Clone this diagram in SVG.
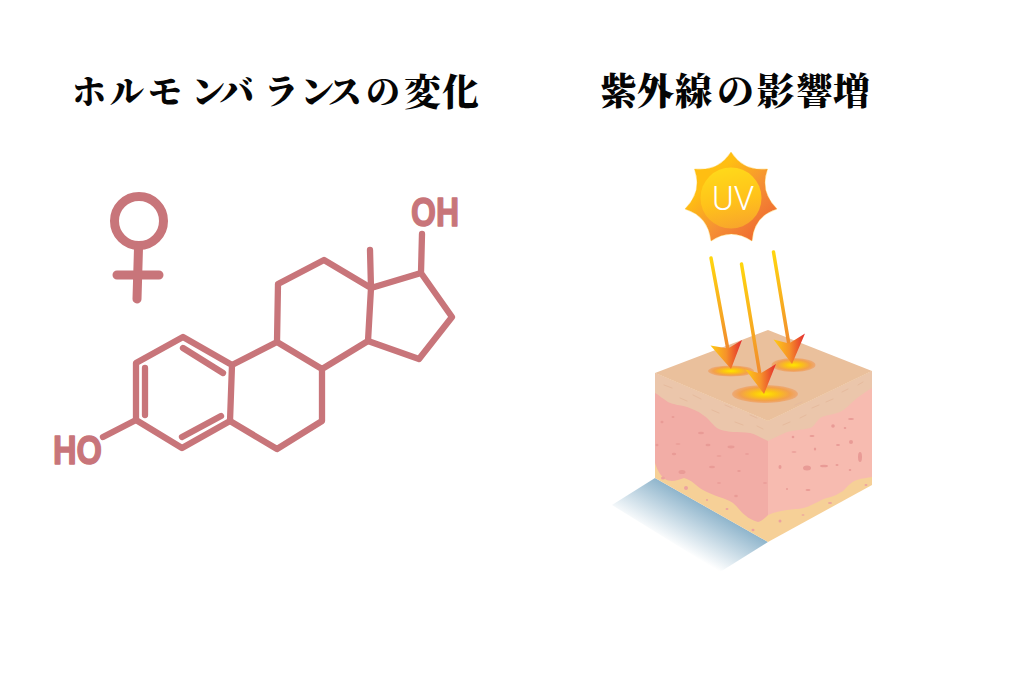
<svg xmlns="http://www.w3.org/2000/svg" width="1024" height="683" viewBox="0 0 1024 683">
<style>
.title{font-family:"Noto Serif CJK JP","Noto Sans CJK JP",serif;font-weight:900;fill:#050505}
.mol{fill:none;stroke:#C8757A;stroke-width:6.300;stroke-linecap:round;stroke-linejoin:round}
.lbl{font-family:"Liberation Sans",sans-serif;font-weight:700;font-size:41px;fill:#C8757A;stroke:#C8757A;stroke-width:1.500;stroke-linejoin:round}
.d{fill:#E99B96}
.f{fill:#EDA39F}
.ep{fill:none;stroke:#E6BB9E;stroke-width:1;stroke-linecap:round}
</style>
<defs>
<linearGradient id="sunO" x1="0" y1="0" x2="1" y2="1"><stop offset="0.3" stop-color="#FFBE12"/><stop offset="0.6" stop-color="#F58F35"/><stop offset="1" stop-color="#EC5A2E"/></linearGradient>
<linearGradient id="sunI" x1="0.4" y1="0" x2="0.6" y2="1"><stop offset="0" stop-color="#FFD91A"/><stop offset="0.55" stop-color="#FFC21A"/><stop offset="1" stop-color="#F8A52C"/></linearGradient>
<linearGradient id="shadow" gradientUnits="userSpaceOnUse" x1="712" y1="510" x2="687.500" y2="553.300"><stop offset="0" stop-color="#8FB5CC"/><stop offset="1" stop-color="#FFFFFF"/></linearGradient>
<radialGradient id="spot"><stop offset="0" stop-color="#FFE600"/><stop offset="0.35" stop-color="#FBC414"/><stop offset="0.75" stop-color="#F3A04A"/><stop offset="1" stop-color="#EDAA78"/></radialGradient>
<linearGradient id="s1" gradientUnits="userSpaceOnUse" x1="711" y1="258" x2="728" y2="350"><stop offset="0" stop-color="#FFD60F"/><stop offset="1" stop-color="#F18A2E"/></linearGradient>
<linearGradient id="s2" gradientUnits="userSpaceOnUse" x1="741.500" y1="264" x2="761" y2="375"><stop offset="0" stop-color="#FFD60F"/><stop offset="1" stop-color="#F18A2E"/></linearGradient>
<linearGradient id="s3" gradientUnits="userSpaceOnUse" x1="773.500" y1="252" x2="791" y2="346"><stop offset="0" stop-color="#FFD60F"/><stop offset="1" stop-color="#F18A2E"/></linearGradient>
<linearGradient id="head" x1="0" y1="0" x2="1" y2="0"><stop offset="0" stop-color="#FFCB14"/><stop offset="0.5" stop-color="#F6922A"/><stop offset="1" stop-color="#E32B2E"/></linearGradient>
</defs>

<g id="title-left" class="title">
<text font-size="34" y="104" x="72 110 148 191 220 264 300 328 366">ホルモンバランスの</text>
<text font-size="37" y="106" x="404 442">変化</text>
</g>
<g id="title-right" class="title">
<text font-size="37" y="105" x="600 637 675 717 757 796 833">紫外線の影響増</text>
</g>

<g id="female-symbol">
<circle cx="139" cy="221" r="24.500" fill="none" stroke="#C8757A" stroke-width="9"/>
<path d="M138.500 248L137 299M117 275H159" fill="none" stroke="#C8757A" stroke-width="9" stroke-linecap="round"/>
</g>

<g id="molecule">
<path class="mol" d="M136 363L183 337L232 365L230 421L182 448L136 420Z"/>
<path class="mol" d="M145 368V415M183 348L223 373M182 437L221 416"/>
<path class="mol" d="M136 420L103 437"/>
<path class="mol" d="M232 365L277 342L278 284L324 260L371 288L368 341L322 369L277 342M322 369V421L277 449L230 421"/>
<path class="mol" d="M371 288L370 250M371 288L421 273L452 317L419 359L368 341M421 273L422 234"/>
<text class="lbl" x="53" y="464" textLength="49" lengthAdjust="spacingAndGlyphs">HO</text>
<text class="lbl" x="411" y="226" textLength="48" lengthAdjust="spacingAndGlyphs">OH</text>
</g>

<g id="sun">
<path fill="url(#sunO)" stroke="#FFBE12" stroke-width="0.300" stroke-linejoin="round" d="M731 152Q743.600 171.900 767.500 169Q759.300 191.500 777 209Q753.700 216.100 752 241Q731 227 711 241Q708.300 216.100 685 209Q702.700 191.500 694.500 169Q718.400 171.900 731 152Z"/>
<circle cx="731" cy="198" r="30.500" fill="url(#sunI)"/>
<text x="733" y="210" text-anchor="middle" font-family="Roboto,'Liberation Sans',sans-serif" font-weight="300" font-size="33" fill="#FFFFFF">UV</text>
</g>

<g id="skin-block">
<polygon points="655,478 768,542 720,572 612,505" fill="url(#shadow)"/>
<polygon points="655,373 768,421 768,542 655,478" fill="#F6D097"/>
<polygon points="768,421 872,371 872,485 768,542" fill="#F6D097"/>
<path fill="#F2ADA6" d="M655 390V463C658 472 661 476 665 479C671 483 678 480 684 478C692 480 696 486 703 490C713 496 726 498 733 503C740 509 744 518 758 522C762 521 765 518 768 515V435Z"/>
<path fill="#F7BBB0" d="M768 515C775 512 781 511 787 510C795 509 801 509 807 507C815 504 820 500 827 498C835 496 838 494 843 491C848 486 851 482 857 480C862 478 868 478 872 477V380L768 435Z"/>
<path fill="#EBC6AB" d="M655 373L768 421L872 371V388C866 391 862 395 857 398C850 404 846 409 840 412C832 415 825 415 820 418C815 423 814 427 810 428C802 430 795 430 787 432C780 435 774 438 768 441C761 438 756 434 750 433C744 432 738 432 733 432C726 431 722 431 717 428C711 423 708 418 703 415C698 411 692 409 687 407C680 405 674 405 668 402C663 399 659 395 655 393Z"/>
<polygon points="768,330 872,371 768,421 655,373" fill="#EAC09C"/>
<path class="ep" d="M664 385l8 3M680 398l7 3M693 395l8 4M712 410l7 3M725 405l7 3M735 422l8 3M750 415l7 3M757 426l6 3M783 425l7-3M800 418l6-3M812 408l7-3M826 402l7-3M795 405l7-3M842 392l6-3M858 385l5-3"/>
<g id="dermis-spots">
<ellipse class="d" cx="662" cy="422" rx="1.500" ry="1.200"/><ellipse class="d" cx="673" cy="417" rx="1.500" ry="1"/><ellipse class="d" cx="701" cy="433" rx="3" ry="1.200"/><ellipse class="d" cx="657" cy="445" rx="1.500" ry="1.200"/><ellipse class="d" cx="678" cy="444" rx="2.500" ry="0.800"/><ellipse class="d" cx="708" cy="445" rx="2.500" ry="1.300"/><ellipse class="d" cx="731" cy="447" rx="3.500" ry="1.400"/><ellipse class="d" cx="719" cy="456" rx="2.500" ry="0.800"/><ellipse class="d" cx="747" cy="454" rx="2" ry="0.800"/><ellipse class="d" cx="674" cy="454" rx="2.200" ry="1.200"/><ellipse class="d" cx="712" cy="467" rx="3" ry="1.200"/><ellipse class="d" cx="682" cy="472" rx="3.500" ry="2"/><ellipse class="d" cx="739" cy="471" rx="1.800" ry="1"/><ellipse class="d" cx="719" cy="483" rx="2" ry="0.800"/><ellipse class="d" cx="765" cy="483" rx="2" ry="0.800"/><ellipse class="d" cx="736" cy="496" rx="1.800" ry="1.200"/>
<ellipse class="d" cx="793" cy="437" rx="1.300" ry="1.300"/><ellipse class="d" cx="812" cy="436" rx="2.500" ry="1"/><ellipse class="d" cx="833" cy="426" rx="1.800" ry="1.800"/><ellipse class="d" cx="851" cy="419" rx="3" ry="0.900"/><ellipse class="d" cx="845" cy="428" rx="1.300" ry="1"/><ellipse class="d" cx="851" cy="442" rx="2" ry="2"/><ellipse class="d" cx="860" cy="457" rx="2" ry="5"/><ellipse class="d" cx="838" cy="445" rx="2" ry="1"/><ellipse class="d" cx="815" cy="449" rx="1.200" ry="1.500"/><ellipse class="d" cx="794" cy="452" rx="2.500" ry="0.800"/><ellipse class="d" cx="807" cy="468" rx="4" ry="2.500"/><ellipse class="d" cx="824" cy="466" rx="4" ry="1.300"/><ellipse class="d" cx="837" cy="465" rx="1.500" ry="1"/><ellipse class="d" cx="780" cy="467" rx="1.500" ry="2"/><ellipse class="d" cx="850" cy="470" rx="1.300" ry="1"/><ellipse class="d" cx="808" cy="490" rx="2.500" ry="1"/><ellipse class="d" cx="787" cy="489" rx="1" ry="1"/>
</g>
<g id="fat-spots">
<ellipse class="f" cx="663" cy="478" rx="2" ry="1.500"/><ellipse class="f" cx="686" cy="488" rx="2" ry="2"/><ellipse class="f" cx="727" cy="509" rx="1.500" ry="1"/><ellipse class="f" cx="753" cy="530" rx="1.500" ry="1.200"/><ellipse class="f" cx="780" cy="521" rx="1.500" ry="1.500"/><ellipse class="f" cx="830" cy="503" rx="2" ry="1"/><ellipse class="f" cx="866" cy="485" rx="1.500" ry="1"/><ellipse class="f" cx="707" cy="500" rx="1" ry="1"/><ellipse class="f" cx="803" cy="515" rx="1.500" ry="0.800"/>
</g>
<ellipse cx="731" cy="371" rx="23" ry="5.500" fill="url(#spot)"/>
<ellipse cx="793.500" cy="365" rx="22" ry="7" fill="url(#spot)"/>
<ellipse cx="765" cy="394" rx="33" ry="9" fill="url(#spot)"/>
</g>

<g id="uv-arrows">
<line x1="711" y1="258" x2="728" y2="350" stroke="url(#s1)" stroke-width="3.500" stroke-linecap="round"/>
<path d="M710.500 345.500L728 348.500L742 340L731 369Z" fill="url(#head)"/>
<line x1="741.500" y1="264" x2="760" y2="375" stroke="url(#s2)" stroke-width="3.500" stroke-linecap="round"/>
<path d="M745.500 369.500L760.500 373.500L776 364L764 394Z" fill="url(#head)"/>
<line x1="773.500" y1="252" x2="789" y2="345" stroke="url(#s3)" stroke-width="3.500" stroke-linecap="round"/>
<path d="M773.500 339.500L789 343.500L805 333.500L792 364Z" fill="url(#head)"/>
</g>
</svg>
